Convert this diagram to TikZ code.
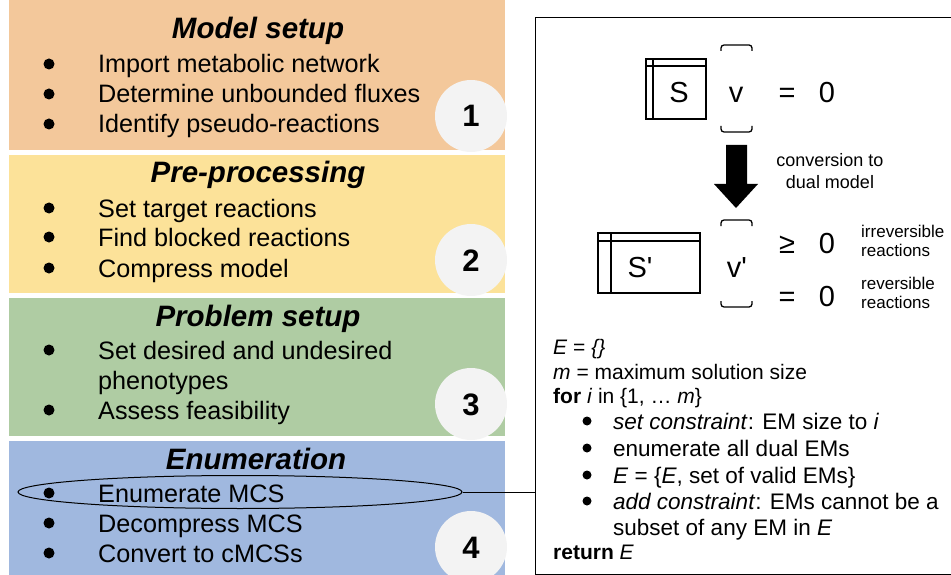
\documentclass[tikz,border=0pt]{standalone}
\usepackage{fontspec}
\setmainfont{Liberation Sans}
\newfontfamily\eqfont{Liberation Sans}[Ligatures=TeXOff]
\usetikzlibrary{shapes.geometric}
\definecolor{porange}{HTML}{F3C89B}
\definecolor{pyellow}{HTML}{FCE299}
\definecolor{pgreen}{HTML}{AFCCA3}
\definecolor{pblue}{HTML}{A0B8DF}
\definecolor{numgray}{HTML}{F3F3F3}
\tikzset{
  ptitle/.style={font=\fontsize{29.5}{34}\selectfont\bfseries\itshape, inner sep=0pt, text height=21pt, text depth=0pt},
  item/.style={font=\fontsize{25.2}{29}\selectfont, anchor=west, inner sep=0pt, text height=18pt, text depth=0pt},
  numcirc/.style={circle, fill=numgray, minimum size=72pt, inner sep=0pt, font=\fontsize{31}{36}\selectfont\bfseries, text height=22pt, text depth=0pt},
  alg/.style={font=\fontsize{21}{25}\selectfont, anchor=west, inner sep=0pt, text height=15pt, text depth=0pt},
  algb/.style={font=\fontsize{22.5}{26}\selectfont, anchor=west, inner sep=0pt, text height=16pt, text depth=0pt},
  eqtext/.style={font=\fontsize{29}{34}\selectfont\eqfont, inner sep=0pt, text height=21pt, text depth=0pt},
  smalltext/.style={font=\fontsize{17}{19}\selectfont, align=left, anchor=west, inner sep=0pt},
  bracket/.style={line width=1.3pt, rounded corners=3pt},
  mat/.style={line width=1.3pt},
}
\begin{document}
\begin{tikzpicture}[x=1pt,y=-1pt]
\useasboundingbox (0,0) rectangle (951,575);
\clip (0,0) rectangle (951,575);
% panels
\fill[porange] (9,0) rectangle (505,150);
\fill[pyellow] (9,155) rectangle (505,293);
\fill[pgreen] (9,298) rectangle (505,436);
\fill[pblue] (9,441) rectangle (505,580);
% number circles
\node[numcirc] (n1) at (471,116) {1};
\node[numcirc] (n2) at (471,260) {2};
\node[numcirc] (n3) at (471,404) {3};
\node[numcirc] (n4) at (471,547) {4};
% titles
\node[ptitle] (t1) at (258,28) {Model setup};
\node[ptitle] (t2) at (258,172) {Pre-processing};
\node[ptitle] (t3) at (258,316) {Problem setup};
\node[ptitle] (t4) at (256,459) {Enumeration};
% bullets left
\foreach \y in {64,94,124,208,237,268,350,410,493,523,553}
  \fill (49,\y) circle (5.5pt);
\node[item] (i11) at (98,64) {Import metabolic network};
\node[item] (i12) at (98,94) {Determine unbounded fluxes};
\node[item] (i13) at (98,124) {Identify pseudo-reactions};
\node[item] (i21) at (98,208) {Set target reactions};
\node[item] (i22) at (98,237) {Find blocked reactions};
\node[item] (i23) at (98,268) {Compress model};
\node[item] (i31) at (98,350) {Set desired and undesired};
\node[item] (i32) at (98,380) {phenotypes};
\node[item] (i33) at (98,410) {Assess feasibility};
\node[item] (i41) at (98,493) {Enumerate MCS};
\node[item] (i42) at (98,523) {Decompress MCS};
\node[item] (i43) at (98,553) {Convert to cMCSs};
% ellipse
\node[ellipse, draw, line width=1pt, minimum width=444pt, minimum height=33pt, inner sep=0pt] (ell) at (240,492) {};
% right box
\node[draw, line width=1.3pt, anchor=north west, minimum width=440pt, minimum height=557pt, inner sep=0pt] (algbox) at (535,17) {};
\draw[line width=1pt] (ell.east) -- (ell.east -| algbox.west);
% matrices
\draw[mat] (646,59) rectangle (706,119);
\draw[mat] (653,59) -- (653,119);
\draw[mat] (646,66) -- (706,66);
\node[eqtext] (S) at (679,92) {S};
\draw[bracket] (721,51) -- (721,45) -- (752,45) -- (752,51);
\draw[bracket] (721,126) -- (721,132) -- (752,132) -- (752,126);
\node[eqtext] (v) at (736,92) {v};
\node[eqtext] (eq1) at (787,92) {=};
\node[eqtext] (z1) at (827,92) {0};
% arrow
\fill (726,145) -- (747,145) -- (747,184) -- (758,184) -- (736,208) -- (714,184) -- (726,184) -- cycle;
\node[font=\fontsize{18}{22}\selectfont, align=center, inner sep=0pt] (conv) at (830,171) {conversion to\\dual model};
% dual
\draw[mat] (598,233) rectangle (700,293);
\draw[mat] (611,233) -- (611,293);
\draw[mat] (598,241) -- (700,241);
\node[eqtext] (Sp) at (640,267) {S'};
\draw[bracket] (721,226) -- (721,220) -- (752,220) -- (752,226);
\draw[bracket] (721,301) -- (721,307) -- (752,307) -- (752,301);
\node[eqtext] (vp) at (737,267) {v'};
\node[eqtext] (ge) at (787,243) {≥};
\node[eqtext] (z2) at (827,243) {0};
\node[eqtext] (eq2) at (787,296) {=};
\node[eqtext] (z3) at (827,296) {0};
\node[smalltext] (irr) at (861,241) {irreversible\\reactions};
\node[smalltext] (rev) at (861,293) {reversible\\reactions};
% algorithm
\node[alg] (a1) at (553,347) {\textit{E} = \textit{\{\}}};
\node[alg] (a2) at (553,372) {\textit{m} = maximum solution size};
\node[alg] (a3) at (553,396) {\textbf{for} \textit{i} in \{1, … \textit{m}\}};
\foreach \y in {421,448,475,501}
  \fill (587,\y) circle (4.5pt);
\node[algb] (a4) at (613,421) {\textit{set constraint}: EM size to \textit{i}};
\node[algb] (a5) at (613,448) {enumerate all dual EMs};
\node[algb] (a6) at (613,475) {\textit{E} = \{\textit{E}, set of valid EMs\}};
\node[algb] (a7) at (613,501) {\textit{add constraint}: EMs cannot be a};
\node[algb] (a8) at (613,527) {subset of any EM in \textit{E}};
\node[alg] (a9) at (553,552) {\textbf{return} \textit{E}};
\end{tikzpicture}
\end{document}
